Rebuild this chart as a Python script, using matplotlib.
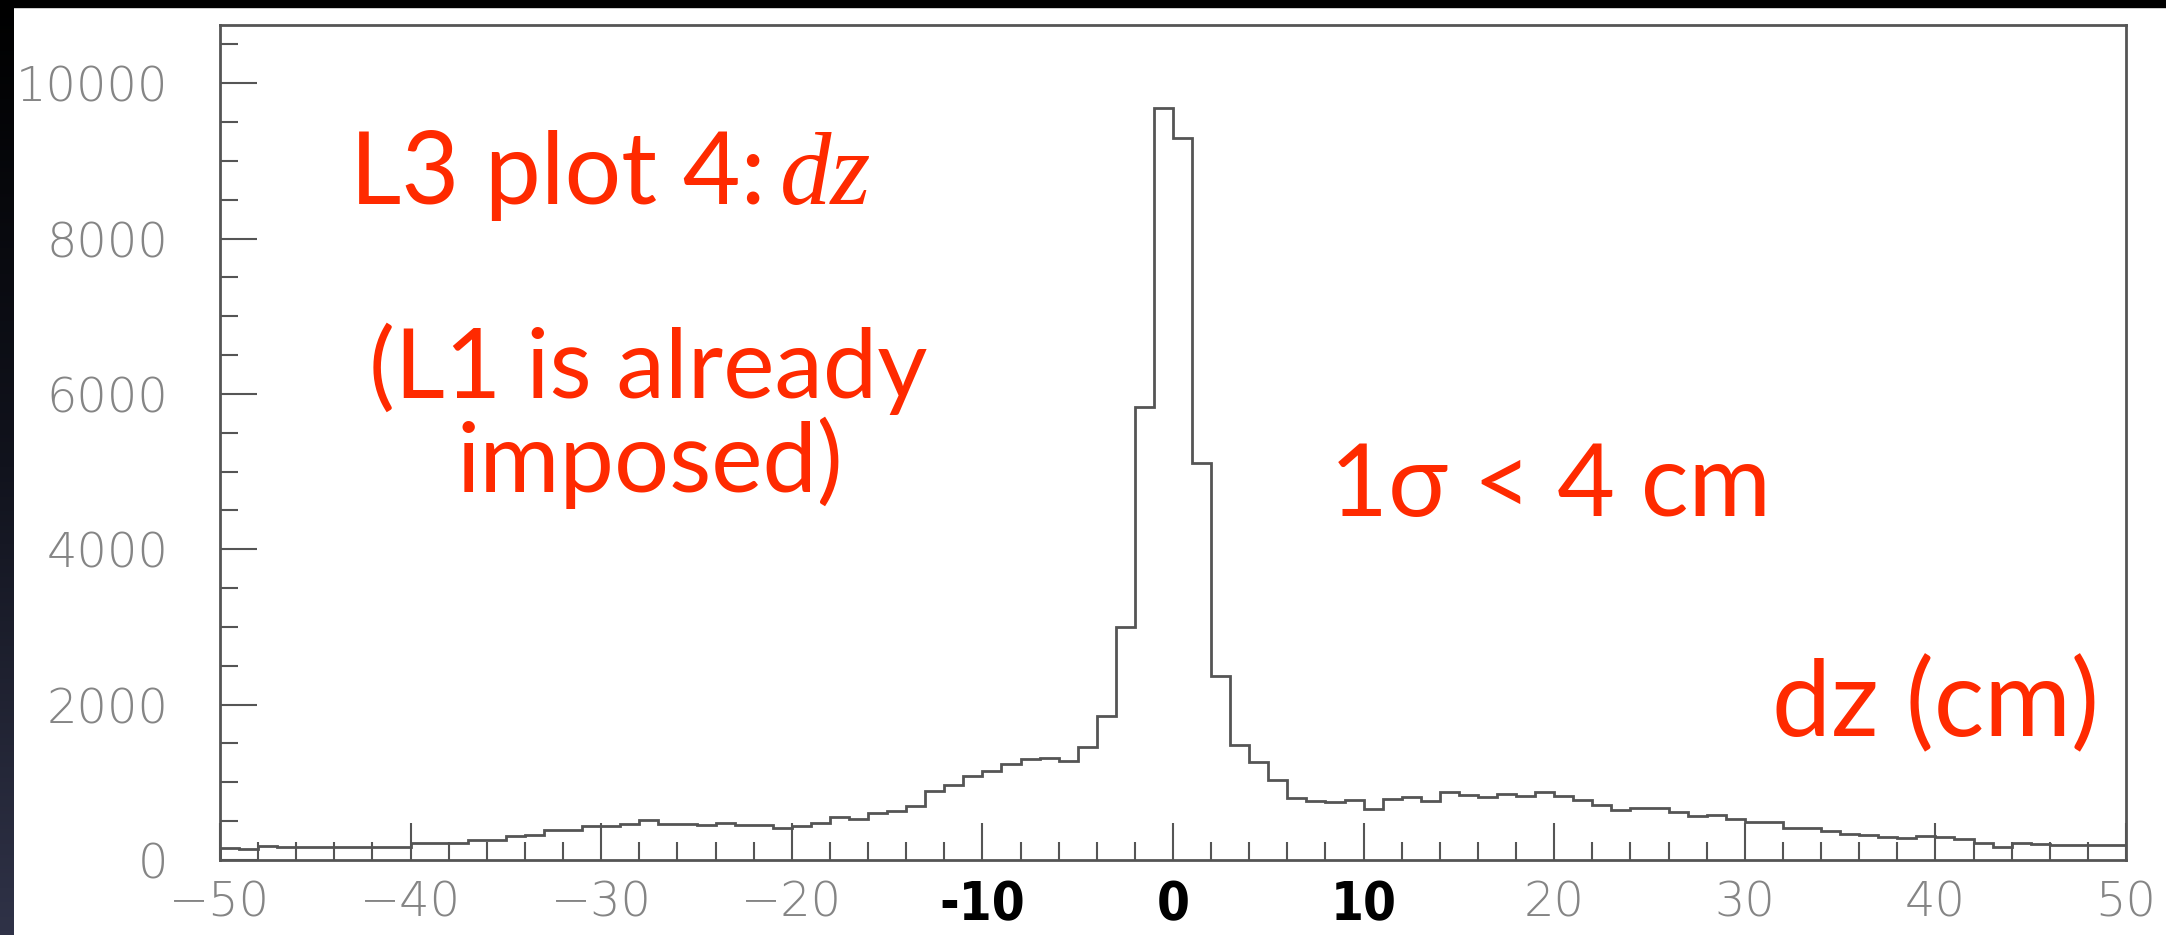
import numpy as np
import matplotlib.pyplot as plt
from matplotlib.ticker import MultipleLocator
from matplotlib.colors import LinearSegmentedColormap
from matplotlib.patches import Rectangle

W, H = 2166, 935

# dz histogram, 1 cm bins from -50 to 50
edges = np.arange(-50, 51, 1)
counts = [155, 142, 176, 163, 163, 163, 163, 163, 163, 163,
          224, 224, 224, 262, 262, 305, 320, 387, 387, 434,
          443, 460, 516, 464, 464, 456, 477, 456, 456, 408,
          439, 473, 555, 525, 602, 632, 701, 890, 968, 1084,
          1140, 1239, 1299, 1319, 1272, 1452, 1851, 2997, 5828, 9677,
          9297, 5115, 2364, 1479, 1264, 1028, 796, 761, 748, 774,
          654, 783, 808, 761, 877, 843, 817, 856, 821, 877,
          821, 774, 710, 647, 675, 675, 623, 563, 585, 525,
          494, 494, 417, 417, 374, 331, 318, 301, 288, 305,
          301, 267, 215, 172, 224, 202, 189, 189, 189, 189]

xticks = [-50, -40, -30, -20, -10, 0, 10, 20, 30, 40, 50]
xlabels = ["\u221250", "\u221240", "\u221230", "\u221220", "-10", "0", "10",
           "20", "30", "40", "50"]
marked_labels = ["-10", "0", "10"]   # bold black labels pasted over the axis

red = '#ff2a00'
sans = ['Lato', 'DejaVu Sans']

fig = plt.figure(figsize=(W / 100, H / 100), dpi=100)
fig.patch.set_facecolor('white')

# dark slide edge on the left and top
strip = fig.add_axes([0, 0, 14 / W, 1])
grad = np.linspace(0, 1, 256).reshape(-1, 1)
cmap = LinearSegmentedColormap.from_list('edge', ['#000000', '#11131d', '#2f3247'])
strip.imshow(grad, aspect='auto', cmap=cmap, extent=[0, 1, 0, 1])
strip.axis('off')
fig.add_artist(Rectangle((0, 1 - 7 / H), 1, 7 / H, transform=fig.transFigure,
                         color='black', zorder=5))

ax = fig.add_axes([220 / W, 75 / H, 1906 / W, 835 / H])
ax.stairs(counts, edges, color='#555555', lw=2)
ax.set_xlim(-50, 50)
ax.set_ylim(0, 10750)

ax.set_xticks(xticks, xlabels)
ax.xaxis.set_minor_locator(MultipleLocator(2))
ax.yaxis.set_major_locator(MultipleLocator(2000))
ax.yaxis.set_minor_locator(MultipleLocator(500))
ax.tick_params(which='both', direction='in', color='#555555', width=1.5,
               labelcolor='#858585', labelsize=34.5)
ax.tick_params(which='major', length=26.6)
ax.tick_params(which='minor', length=13.3)
ax.tick_params(axis='y', pad=37)
ax.tick_params(axis='x', pad=14)
for lab in ax.get_xticklabels() + ax.get_yticklabels():
    lab.set_fontweight('light')
for lab in ax.get_xticklabels():
    if lab.get_text() in marked_labels:
        lab.set_color('black')
        lab.set_fontweight('bold')
        lab.set_fontsize(38)
        lab.set_fontstretch('condensed')
        lab.set_family(['Liberation Sans Narrow', 'DejaVu Sans'])
for sp in ax.spines.values():
    sp.set_color('#555555')
    sp.set_linewidth(2)


def ftext(x, y, s, **kw):
    kw.setdefault('family', sans)
    kw.setdefault('fontsize', 72)
    fig.text(x / W, 1 - y / H, s, color=red, va='baseline', **kw)


ftext(350, 204, "L3 plot 4:")
ftext(780, 204, "dz", family=['Liberation Serif', 'DejaVu Serif'],
      style='italic', fontsize=74)
ftext(648, 398, "(L1 is already", ha='center', fontsize=70)
ftext(650, 492, "imposed)", ha='center', fontsize=70)
ftext(1330, 516, "1\u03c3 < 4 cm")
ftext(1772, 736, "dz (cm)", fontsize=76)

fig.savefig("out.png", dpi=100)
